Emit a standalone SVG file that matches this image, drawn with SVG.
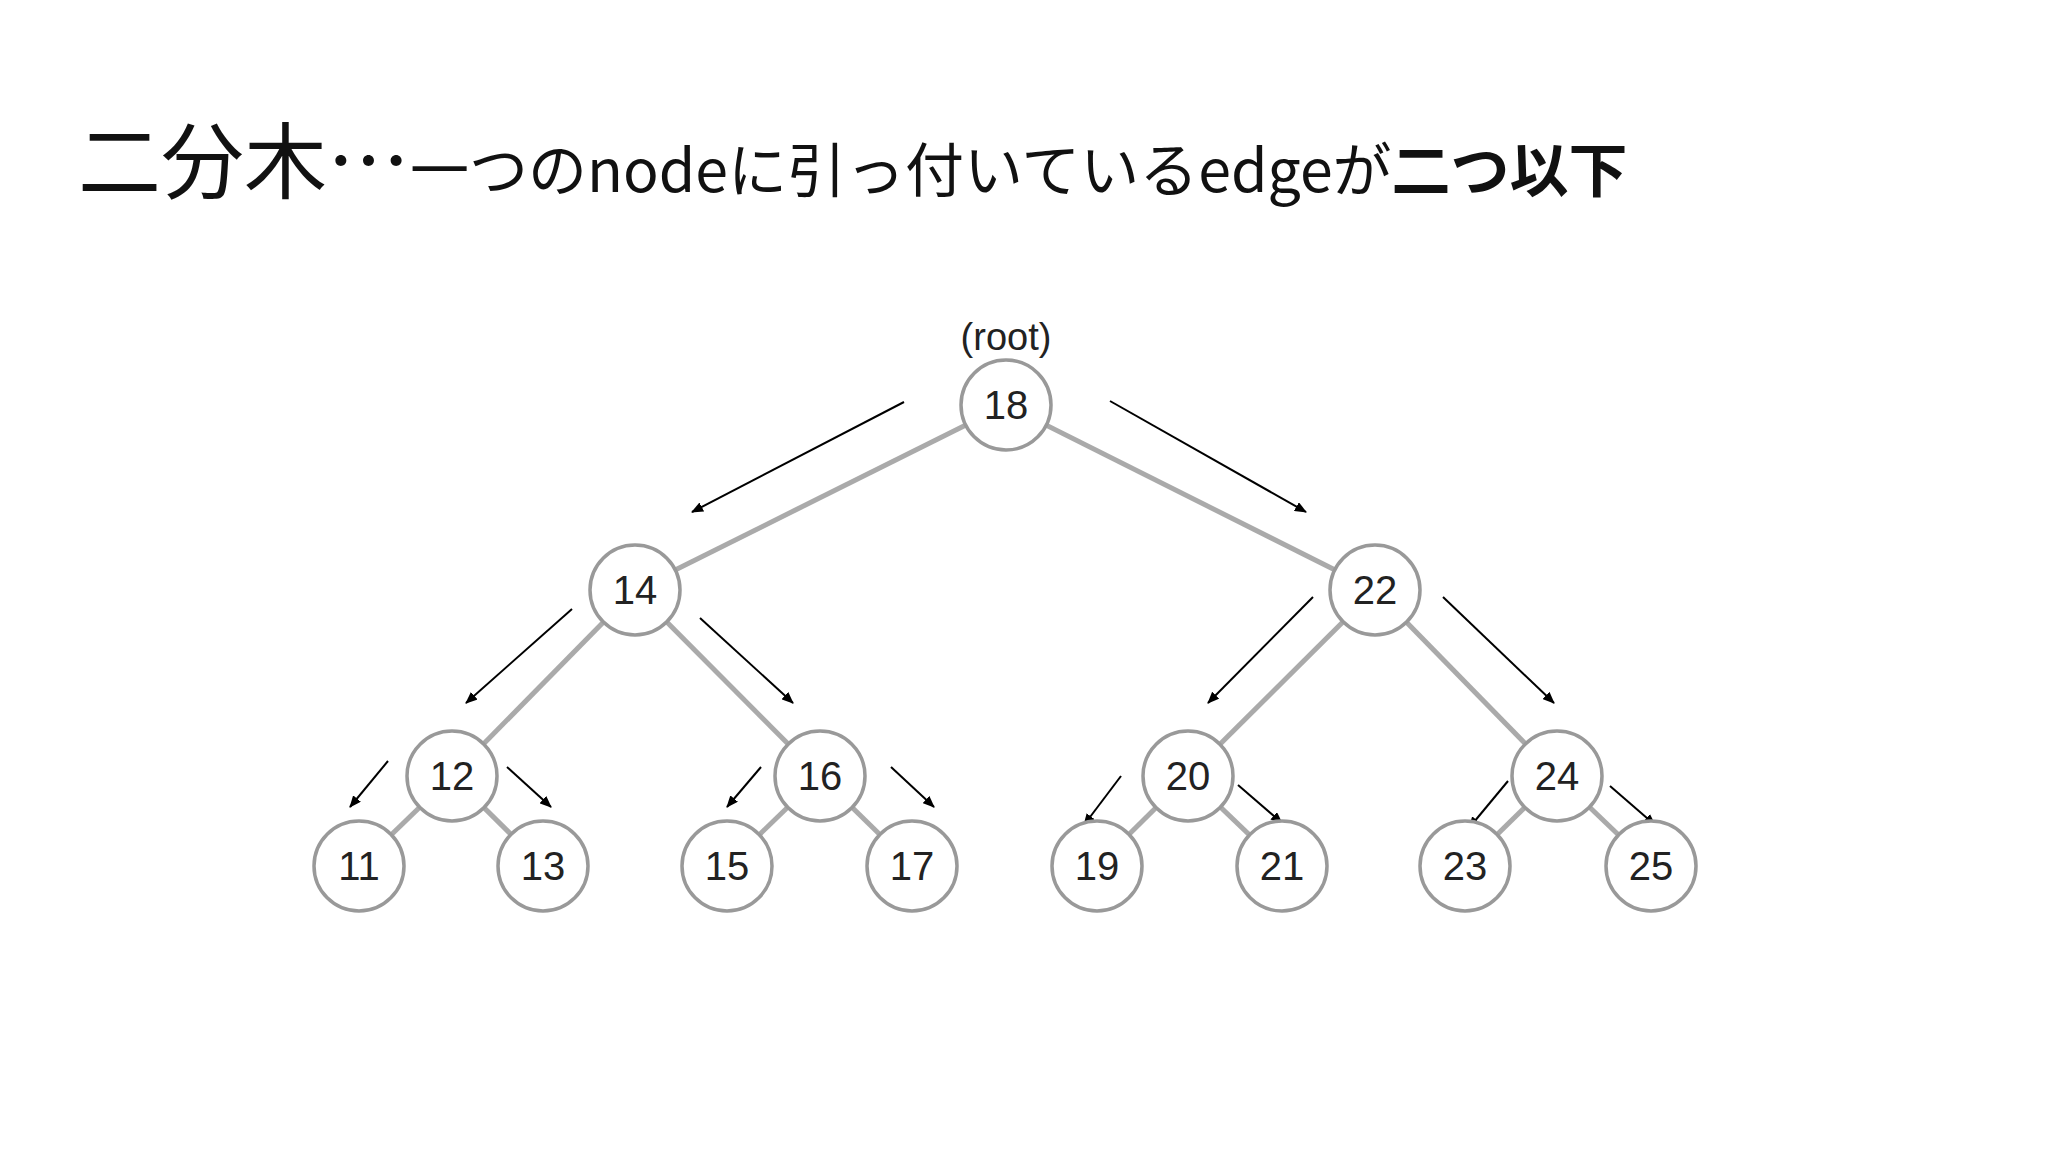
<svg xmlns="http://www.w3.org/2000/svg" width="2048" height="1152" viewBox="0 0 2048 1152">
<style>
.t{font-family:"Noto Sans CJK JP","Noto Sans",sans-serif;fill:#111}
.n circle{fill:#fff;stroke:#999;stroke-width:3.5}
.n text{font-family:"Liberation Sans",Arial,sans-serif;font-size:40px;text-anchor:middle;fill:#222}
.e line{stroke:#aaa;stroke-width:5}
.a line{stroke:#000;stroke-width:2;marker-end:url(#ah)}
</style>
<defs><marker id="ah" markerWidth="12" markerHeight="10" refX="11" refY="5" orient="auto" markerUnits="userSpaceOnUse"><path d="M0,0L12,5L0,10z" fill="#000"/></marker></defs>
<rect width="2048" height="1152" fill="#fff"/>
<text class="t" x="78" y="192"><tspan font-size="83">二分木…</tspan><tspan font-size="59">一つのnodeに引っ付いているedgeが</tspan><tspan font-size="59" font-weight="bold">二つ以下</tspan></text>
<g class="e">
<line x1="1006" y1="405" x2="635" y2="590"/><line x1="1006" y1="405" x2="1375" y2="590"/>
<line x1="635" y1="590" x2="452" y2="776"/><line x1="635" y1="590" x2="820" y2="776"/>
<line x1="1375" y1="590" x2="1188" y2="776"/><line x1="1375" y1="590" x2="1557" y2="776"/>
<line x1="452" y1="776" x2="359" y2="866"/><line x1="452" y1="776" x2="543" y2="866"/>
<line x1="820" y1="776" x2="727" y2="866"/><line x1="820" y1="776" x2="912" y2="866"/>
<line x1="1188" y1="776" x2="1097" y2="866"/><line x1="1188" y1="776" x2="1282" y2="866"/>
<line x1="1557" y1="776" x2="1465" y2="866"/><line x1="1557" y1="776" x2="1651" y2="866"/>
</g>
<g class="a">
<line x1="904" y1="402" x2="692" y2="512"/><line x1="1110" y1="401" x2="1306" y2="512"/>
<line x1="572" y1="609" x2="466" y2="703"/><line x1="700" y1="618" x2="793" y2="703"/>
<line x1="1313" y1="597" x2="1208" y2="703"/><line x1="1443" y1="597" x2="1554" y2="703"/>
<line x1="388" y1="761" x2="350" y2="807"/><line x1="507" y1="767" x2="551" y2="807"/>
<line x1="761" y1="767" x2="727" y2="807"/><line x1="891" y1="767" x2="934" y2="807"/>
<line x1="1121" y1="776" x2="1084" y2="825"/><line x1="1238" y1="785" x2="1282" y2="823"/>
<line x1="1508" y1="781" x2="1469" y2="828"/><line x1="1610" y1="786" x2="1655" y2="825"/>
</g>
<text x="1006" y="350" font-family="Liberation Sans,Arial,sans-serif" font-size="38" text-anchor="middle" fill="#222">(root)</text>
<g id="n18" class="n"><circle cx="1006" cy="405" r="45"/><text x="1006" y="419">18</text></g>
<g id="n14" class="n"><circle cx="635" cy="590" r="45"/><text x="635" y="604">14</text></g>
<g id="n22" class="n"><circle cx="1375" cy="590" r="45"/><text x="1375" y="604">22</text></g>
<g id="n12" class="n"><circle cx="452" cy="776" r="45"/><text x="452" y="790">12</text></g>
<g id="n16" class="n"><circle cx="820" cy="776" r="45"/><text x="820" y="790">16</text></g>
<g id="n20" class="n"><circle cx="1188" cy="776" r="45"/><text x="1188" y="790">20</text></g>
<g id="n24" class="n"><circle cx="1557" cy="776" r="45"/><text x="1557" y="790">24</text></g>
<g id="n11" class="n"><circle cx="359" cy="866" r="45"/><text x="359" y="880">11</text></g>
<g id="n13" class="n"><circle cx="543" cy="866" r="45"/><text x="543" y="880">13</text></g>
<g id="n15" class="n"><circle cx="727" cy="866" r="45"/><text x="727" y="880">15</text></g>
<g id="n17" class="n"><circle cx="912" cy="866" r="45"/><text x="912" y="880">17</text></g>
<g id="n19" class="n"><circle cx="1097" cy="866" r="45"/><text x="1097" y="880">19</text></g>
<g id="n21" class="n"><circle cx="1282" cy="866" r="45"/><text x="1282" y="880">21</text></g>
<g id="n23" class="n"><circle cx="1465" cy="866" r="45"/><text x="1465" y="880">23</text></g>
<g id="n25" class="n"><circle cx="1651" cy="866" r="45"/><text x="1651" y="880">25</text></g>
</svg>
